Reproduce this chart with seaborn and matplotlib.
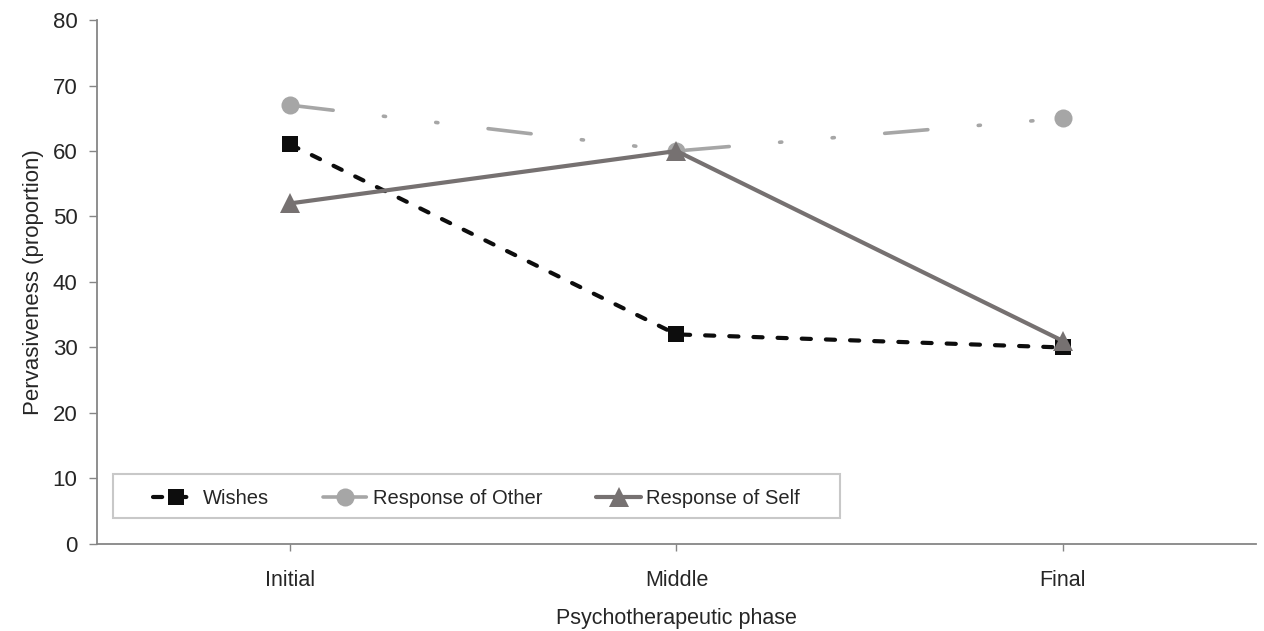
import pandas as pd
import numpy as np
import matplotlib
matplotlib.use("Agg")
import matplotlib.pyplot as plt
from matplotlib.patches import Rectangle
import seaborn as sns

phases = ["Initial", "Middle", "Final"]
wishes = [61, 32, 30]
response_other = [67, 60, 65]
response_self = [52, 60, 31]

sns.set_style("white")
plt.rcParams['font.family'] = ['Liberation Sans', 'DejaVu Sans']
plt.rcParams['lines.dash_capstyle'] = 'round'

df = pd.DataFrame({
    'phase': phases * 3,
    'value': wishes + response_other + response_self,
    'series': ['Wishes'] * 3 + ['Response of Other'] * 3 + ['Response of Self'] * 3,
})

fig = plt.figure(figsize=(12.64, 6.31), dpi=100)
ax = fig.add_axes([0.0767, 0.1379, 0.9170, 0.8304])

styles = {
    'Wishes': dict(color='#0d0d0d', marker='s', markersize=12, lw=3, dashes=(2.2, 3.6)),
    'Response of Other': dict(color='#a6a6a6', marker='o', markersize=13, lw=2.6, dashes=(12, 14, 0.6, 14, 0.6, 14)),
    'Response of Self': dict(color='#767171', marker='^', markersize=14, lw=3, dashes=(None, None)),
}
order = ['Wishes', 'Response of Other', 'Response of Self']
for name in order:
    st = styles[name]
    sub = df[df.series == name]
    sns.lineplot(data=sub, x='phase', y='value', color=st['color'], marker=st['marker'],
                 markersize=st['markersize'], lw=st['lw'], markeredgewidth=0,
                 label=name, ax=ax, sort=False)
    ln = ax.lines[-1]
    if st['dashes'][0] is not None:
        ln.set_dashes(st['dashes'])
    else:
        ln.set_linestyle('-')

ax.set_xlim(-0.5, 2.5)
ax.set_ylim(0, 80)
ax.set_yticks(range(0, 81, 10))
ax.tick_params(axis='y', labelsize=16, length=6, width=1, color='#868686', pad=8, direction='out', left=True)
ax.tick_params(axis='x', labelsize=15.5, length=5, width=1, color='#868686', pad=14, direction='out', bottom=True)
for s in ['top', 'right']:
    ax.spines[s].set_visible(False)
for s in ['left', 'bottom']:
    ax.spines[s].set_color('#868686')
    ax.spines[s].set_linewidth(1.3)
ax.set_xlabel('Psychotherapeutic phase', fontsize=15.5, labelpad=12)
ax.set_ylabel('Pervasiveness (proportion)', fontsize=16, labelpad=6)

# legend box
ax.add_patch(Rectangle((0.0138, 0.0496), 0.627, 0.084, transform=ax.transAxes,
                       fill=True, facecolor='white', edgecolor='#c8c8c8', lw=1.5, zorder=4))
leg = ax.legend(loc='center', bbox_to_anchor=(0.3274, 0.086), ncol=3, fontsize=14.5,
                frameon=False, handlelength=2.2, handletextpad=0.25, columnspacing=2.7)
leg.set_zorder(5)

fig.savefig('out.png', dpi=100)
